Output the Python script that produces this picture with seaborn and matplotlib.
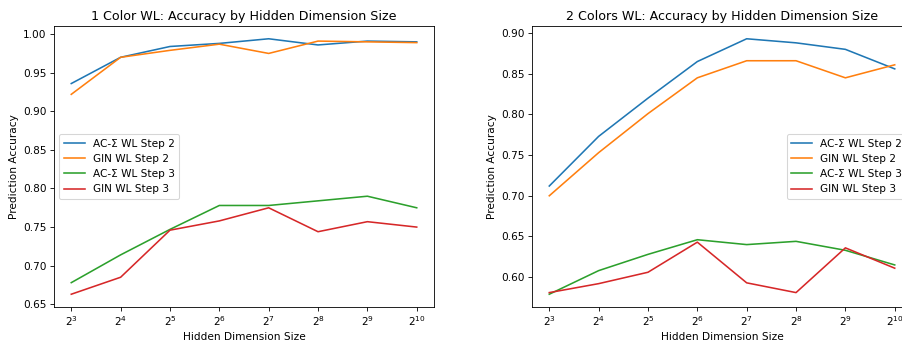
import numpy as np
import matplotlib
matplotlib.use('Agg')
import matplotlib.pyplot as plt
import seaborn as sns
import pandas as pd

hidden_dims = [8, 16, 32, 64, 128, 256, 512, 1024]
series_names = ['AC-Σ WL Step 2', 'GIN WL Step 2', 'AC-Σ WL Step 3', 'GIN WL Step 3']

# 1 color WL
one_ac_step2 = [0.936, 0.970, 0.984, 0.988, 0.994, 0.986, 0.991, 0.990]
one_gin_step2 = [0.922, 0.970, 0.979, 0.987, 0.975, 0.991, 0.990, 0.989]
one_ac_step3 = [0.678, 0.714, 0.747, 0.778, 0.778, 0.784, 0.790, 0.775]
one_gin_step3 = [0.663, 0.685, 0.746, 0.758, 0.775, 0.744, 0.757, 0.750]

# 2 colors WL
two_ac_step2 = [0.712, 0.773, 0.820, 0.865, 0.893, 0.888, 0.880, 0.856]
two_gin_step2 = [0.700, 0.753, 0.801, 0.845, 0.866, 0.866, 0.845, 0.861]
two_ac_step3 = [0.579, 0.608, 0.628, 0.646, 0.640, 0.644, 0.633, 0.615]
two_gin_step3 = [0.581, 0.592, 0.606, 0.643, 0.593, 0.581, 0.636, 0.611]


def make_df(vals):
    rows = []
    for name, v in zip(series_names, vals):
        for h, a in zip(hidden_dims, v):
            rows.append({'hidden': h, 'acc': a, 'model': name})
    return pd.DataFrame(rows)


df1 = make_df([one_ac_step2, one_gin_step2, one_ac_step3, one_gin_step3])
df2 = make_df([two_ac_step2, two_gin_step2, two_ac_step3, two_gin_step3])

# rendered at a low dpi so text/lines come out small like the original
DPI = 76
W, H = 902, 345
fig = plt.figure(figsize=(W / DPI, H / DPI), dpi=DPI)
ax1 = fig.add_axes([54 / W, 38 / H, 380 / W, 281 / H])
ax2 = fig.add_axes([532 / W, 38 / H, 380 / W, 281 / H])

pal = sns.color_palette('tab10', 4)

for ax, df, title, loc in [(ax1, df1, '1 Color WL: Accuracy by Hidden Dimension Size', 'center left'),
                           (ax2, df2, '2 Colors WL: Accuracy by Hidden Dimension Size', 'center right')]:
    sns.lineplot(data=df, x='hidden', y='acc', hue='model', palette=pal, ax=ax)
    ax.set_xscale('log', base=2)
    ax.set_xticks(hidden_dims)
    ax.set_title(title)
    ax.set_xlabel('Hidden Dimension Size')
    ax.set_ylabel('Prediction Accuracy')
    ax.legend(loc=loc, title=None)

fig.savefig('out.png', dpi=DPI)
